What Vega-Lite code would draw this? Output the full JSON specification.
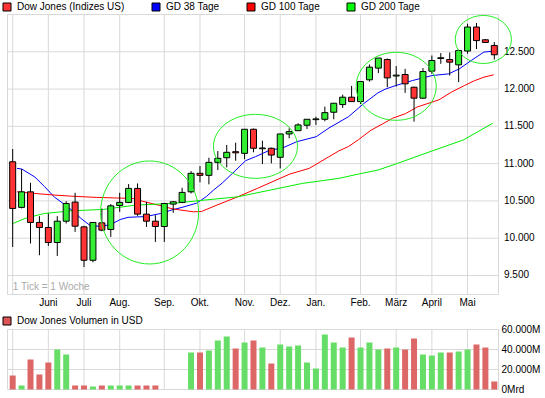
{
  "$schema": "https://vega.github.io/schema/vega-lite/v6.json",
  "width": 545,
  "height": 398,
  "autosize": "none",
  "padding": 0,
  "background": "white",
  "config": {
    "view": {"stroke": null},
    "font": "Liberation Sans",
    "legend": {"labelFont": "Liberation Sans", "labelFontSize": 10, "labelColor": "#000000"}
  },
  "datasets": {
    "weeks": [
      {"i":1,"o":11025,"h":11196,"l":9883,"c":10399,"v":14000},
      {"i":2,"o":10413,"h":10927,"l":10400,"c":10622,"v":4000},
      {"i":3,"o":10622,"h":10743,"l":9929,"c":10211,"v":30000},
      {"i":4,"o":10211,"h":10296,"l":9772,"c":10144,"v":15000},
      {"i":5,"o":10144,"h":10332,"l":9896,"c":9942,"v":27000},
      {"i":6,"o":9942,"h":10296,"l":9762,"c":10228,"v":40000},
      {"i":7,"o":10228,"h":10497,"l":10197,"c":10466,"v":35000},
      {"i":8,"o":10484,"h":10609,"l":10085,"c":10161,"v":4000},
      {"i":9,"o":10152,"h":10165,"l":9614,"c":9704,"v":4000},
      {"i":10,"o":9704,"h":10211,"l":9677,"c":10211,"v":3000},
      {"i":11,"o":10206,"h":10399,"l":10094,"c":10108,"v":4000},
      {"i":12,"o":10117,"h":10457,"l":10017,"c":10434,"v":4000},
      {"i":13,"o":10439,"h":10609,"l":10353,"c":10480,"v":4000},
      {"i":14,"o":10480,"h":10726,"l":10470,"c":10668,"v":4000},
      {"i":15,"o":10668,"h":10735,"l":10300,"c":10323,"v":4000},
      {"i":16,"o":10323,"h":10488,"l":10151,"c":10228,"v":4000},
      {"i":17,"o":10228,"h":10309,"l":9950,"c":10157,"v":4000},
      {"i":18,"o":10157,"h":10466,"l":9950,"c":10466},
      {"i":19,"o":10457,"h":10497,"l":10340,"c":10488},
      {"i":20,"o":10480,"h":10676,"l":10470,"c":10614},
      {"i":21,"o":10622,"h":10900,"l":10600,"c":10870,"v":37000},
      {"i":22,"o":10870,"h":10968,"l":10749,"c":10843,"v":37000},
      {"i":23,"o":10843,"h":11079,"l":10722,"c":11017,"v":39000},
      {"i":24,"o":11017,"h":11169,"l":10914,"c":11071,"v":49000},
      {"i":25,"o":11079,"h":11250,"l":10950,"c":11152,"v":53000},
      {"i":26,"o":11160,"h":11281,"l":11039,"c":11145,"v":41000},
      {"i":27,"o":11138,"h":11461,"l":11060,"c":11461,"v":47000},
      {"i":28,"o":11461,"h":11470,"l":11152,"c":11206,"v":49000},
      {"i":29,"o":11200,"h":11308,"l":10995,"c":11210,"v":42000},
      {"i":30,"o":11206,"h":11215,"l":11004,"c":11115,"v":26000},
      {"i":31,"o":11085,"h":11398,"l":10937,"c":11398,"v":45000},
      {"i":32,"o":11398,"h":11474,"l":11340,"c":11429,"v":43000},
      {"i":33,"o":11442,"h":11541,"l":11442,"c":11519,"v":44000},
      {"i":34,"o":11515,"h":11595,"l":11465,"c":11595,"v":27000},
      {"i":35,"o":11590,"h":11630,"l":11519,"c":11600,"v":21000},
      {"i":36,"o":11595,"h":11765,"l":11568,"c":11684,"v":55000},
      {"i":37,"o":11689,"h":11810,"l":11595,"c":11810,"v":47000},
      {"i":38,"o":11792,"h":11925,"l":11747,"c":11891,"v":42000},
      {"i":39,"o":11891,"h":12043,"l":11832,"c":11832,"v":52000},
      {"i":40,"o":11832,"h":12101,"l":11800,"c":12101,"v":42000},
      {"i":41,"o":12124,"h":12330,"l":12100,"c":12294,"v":47000},
      {"i":42,"o":12281,"h":12416,"l":12214,"c":12416,"v":40000},
      {"i":43,"o":12396,"h":12410,"l":12025,"c":12150,"v":41000},
      {"i":44,"o":12175,"h":12308,"l":12033,"c":12187,"v":42000},
      {"i":45,"o":12195,"h":12271,"l":11949,"c":12070,"v":40000},
      {"i":46,"o":12025,"h":12030,"l":11563,"c":11878,"v":51000},
      {"i":47,"o":11878,"h":12281,"l":11870,"c":12235,"v":35000},
      {"i":48,"o":12240,"h":12450,"l":12204,"c":12383,"v":34000},
      {"i":49,"o":12410,"h":12482,"l":12339,"c":12420,"v":37000},
      {"i":50,"o":12396,"h":12490,"l":12181,"c":12361,"v":37000},
      {"i":51,"o":12325,"h":12530,"l":12093,"c":12517,"v":38000},
      {"i":52,"o":12510,"h":12876,"l":12473,"c":12832,"v":40000},
      {"i":53,"o":12832,"h":12886,"l":12536,"c":12650,"v":45000},
      {"i":54,"o":12661,"h":12670,"l":12620,"c":12625,"v":42000},
      {"i":55,"o":12585,"h":12630,"l":12396,"c":12460,"v":8000}
    ],
    "ma": [
      {"series":"GD 38 Tage","i":1.48,"v":10937},{"series":"GD 38 Tage","i":2.03,"v":10927},{"series":"GD 38 Tage","i":3.49,"v":10820},{"series":"GD 38 Tage","i":4.59,"v":10690},{"series":"GD 38 Tage","i":5.69,"v":10550},{"series":"GD 38 Tage","i":6.79,"v":10455},{"series":"GD 38 Tage","i":7.89,"v":10350},{"series":"GD 38 Tage","i":8.66,"v":10265},{"series":"GD 38 Tage","i":9.76,"v":10163},{"series":"GD 38 Tage","i":10.86,"v":10161},{"series":"GD 38 Tage","i":11.96,"v":10180},{"series":"GD 38 Tage","i":13.05,"v":10250},{"series":"GD 38 Tage","i":13.93,"v":10280},{"series":"GD 38 Tage","i":15.91,"v":10290},{"series":"GD 38 Tage","i":17.56,"v":10330},{"series":"GD 38 Tage","i":18.88,"v":10380},{"series":"GD 38 Tage","i":19.98,"v":10413},{"series":"GD 38 Tage","i":21.63,"v":10470},{"series":"GD 38 Tage","i":22.73,"v":10560},{"series":"GD 38 Tage","i":23.52,"v":10645},{"series":"GD 38 Tage","i":24.5,"v":10740},{"series":"GD 38 Tage","i":26.03,"v":10914},{"series":"GD 38 Tage","i":27.12,"v":11040},{"series":"GD 38 Tage","i":28.22,"v":11093},{"series":"GD 38 Tage","i":29.87,"v":11183},{"series":"GD 38 Tage","i":31.19,"v":11206},{"series":"GD 38 Tage","i":32.84,"v":11294},{"series":"GD 38 Tage","i":35.03,"v":11361},{"series":"GD 38 Tage","i":36.46,"v":11478},{"series":"GD 38 Tage","i":38.66,"v":11630},{"series":"GD 38 Tage","i":40.31,"v":11800},{"series":"GD 38 Tage","i":41.96,"v":11950},{"series":"GD 38 Tage","i":42.84,"v":12002},{"series":"GD 38 Tage","i":43.94,"v":12047},{"series":"GD 38 Tage","i":45.81,"v":12114},{"series":"GD 38 Tage","i":48.01,"v":12181},{"series":"GD 38 Tage","i":49.87,"v":12204},{"series":"GD 38 Tage","i":51.08,"v":12271},{"series":"GD 38 Tage","i":52.41,"v":12383},{"series":"GD 38 Tage","i":53.83,"v":12496},{"series":"GD 38 Tage","i":54.92,"v":12509},
      {"series":"GD 100 Tage","i":1.48,"v":10622},{"series":"GD 100 Tage","i":3.49,"v":10600},{"series":"GD 100 Tage","i":5.69,"v":10578},{"series":"GD 100 Tage","i":7.56,"v":10564},{"series":"GD 100 Tage","i":10.42,"v":10547},{"series":"GD 100 Tage","i":14.48,"v":10533},{"series":"GD 100 Tage","i":15.58,"v":10495},{"series":"GD 100 Tage","i":17.45,"v":10440},{"series":"GD 100 Tage","i":18.88,"v":10395},{"series":"GD 100 Tage","i":19.98,"v":10375},{"series":"GD 100 Tage","i":21.29,"v":10354},{"series":"GD 100 Tage","i":22.16,"v":10358},{"series":"GD 100 Tage","i":23.81,"v":10440},{"series":"GD 100 Tage","i":26.23,"v":10555},{"series":"GD 100 Tage","i":28.43,"v":10668},{"series":"GD 100 Tage","i":32.07,"v":10860},{"series":"GD 100 Tage","i":34.26,"v":10937},{"series":"GD 100 Tage","i":36.46,"v":11093},{"series":"GD 100 Tage","i":37.56,"v":11170},{"series":"GD 100 Tage","i":38.66,"v":11230},{"series":"GD 100 Tage","i":39.76,"v":11320},{"series":"GD 100 Tage","i":41.19,"v":11450},{"series":"GD 100 Tage","i":42.51,"v":11535},{"series":"GD 100 Tage","i":43.61,"v":11610},{"series":"GD 100 Tage","i":45.04,"v":11670},{"series":"GD 100 Tage","i":46.36,"v":11760},{"series":"GD 100 Tage","i":48.78,"v":11855},{"series":"GD 100 Tage","i":50.21,"v":11960},{"series":"GD 100 Tage","i":51.64,"v":12047},{"series":"GD 100 Tage","i":52.74,"v":12110},{"series":"GD 100 Tage","i":53.84,"v":12160},{"series":"GD 100 Tage","i":54.92,"v":12191},
      {"series":"GD 200 Tage","i":1,"v":10197},{"series":"GD 200 Tage","i":2.4,"v":10265},{"series":"GD 200 Tage","i":3.82,"v":10310},{"series":"GD 200 Tage","i":4.59,"v":10332},{"series":"GD 200 Tage","i":7.56,"v":10367},{"series":"GD 200 Tage","i":11.19,"v":10386},{"series":"GD 200 Tage","i":14.82,"v":10444},{"series":"GD 200 Tage","i":18.88,"v":10466},{"series":"GD 200 Tage","i":22.51,"v":10511},{"series":"GD 200 Tage","i":26.23,"v":10555},{"series":"GD 200 Tage","i":29.87,"v":10645},{"series":"GD 200 Tage","i":33.49,"v":10735},{"series":"GD 200 Tage","i":37.56,"v":10802},{"series":"GD 200 Tage","i":39.76,"v":10860},{"series":"GD 200 Tage","i":41.96,"v":10914},{"series":"GD 200 Tage","i":44.16,"v":11004},{"series":"GD 200 Tage","i":47.78,"v":11160},{"series":"GD 200 Tage","i":51.52,"v":11317},{"series":"GD 200 Tage","i":54.82,"v":11541}
    ],
    "months": [{"i":1,"label":""},{"i":5,"label":"Juni"},{"i":9,"label":"Juli"},{"i":13,"label":"Aug."},{"i":18,"label":"Sep."},{"i":22,"label":"Okt."},{"i":27,"label":"Nov."},{"i":31,"label":"Dez."},{"i":35,"label":"Jan."},{"i":40,"label":"Feb."},{"i":44,"label":"März"},{"i":48,"label":"April"},{"i":52,"label":"Mai"}],
    "pgrid": [{"p":9500,"label":"9.500"},{"p":10000,"label":"10.000"},{"p":10500,"label":"10.500"},{"p":11000,"label":"11.000"},{"p":11500,"label":"11.500"},{"p":12000,"label":"12.000"},{"p":12500,"label":"12.500"}],
    "vgrid": [{"v":20000},{"v":40000}],
    "vlabels": [{"v":0,"label":"0Mrd"},{"v":20000,"label":"20.000M"},{"v":40000,"label":"40.000M"},{"v":60000,"label":"60.000M"}],
    "circles": [{"id":"a","i":16.35,"p":10345},{"id":"b","i":28.22,"p":11232},{"id":"c","i":44.0,"p":12037},{"id":"d","i":53.77,"p":12665}],
    "legendTop": [{"name":"Dow Jones (Indizes US)"},{"name":"GD 38 Tage"},{"name":"GD 100 Tage"},{"name":"GD 200 Tage"}],
    "legendVol": [{"name":"Dow Jones Volumen in USD"}],
    "one": [{}]
  },
  "layer": [
    {
      "layer": [
        {
          "data": {"name": "one"},
          "mark": {"type": "rect", "fillOpacity": 0, "stroke": "#d9d9d9", "strokeWidth": 1},
          "encoding": {
            "x": {"datum": 0.42, "type": "quantitative", "scale": {"domain": [0.42, 55.47], "range": [2.5, 503.5], "nice": false, "zero": false}, "axis": null},
            "x2": {"datum": 55.47},
            "y": {"datum": 9245, "type": "quantitative", "scale": {"domain": [9245, 13000], "range": [294.5, 14.5], "nice": false, "zero": false}, "axis": null},
            "y2": {"datum": 13000}
          }
        },
        {
          "data": {"name": "pgrid"},
          "mark": {"type": "rule", "color": "#d9d9d9", "strokeWidth": 1},
          "encoding": {
            "y": {"field": "p", "type": "quantitative", "scale": {"domain": [9245, 13000], "range": [294.5, 14.5], "nice": false, "zero": false}, "axis": null},
            "x": {"datum": 0.42, "type": "quantitative", "scale": {"domain": [0.42, 55.47], "range": [2.5, 503.5], "nice": false, "zero": false}, "axis": null},
            "x2": {"datum": 55.47}
          }
        },
        {
          "data": {"name": "pgrid"},
          "mark": {"type": "text", "align": "left", "baseline": "middle", "dx": 5.5, "fontSize": 10, "font": "Liberation Sans", "color": "#000000"},
          "encoding": {
            "y": {"field": "p", "type": "quantitative", "scale": {"domain": [9245, 13000], "range": [294.5, 14.5], "nice": false, "zero": false}, "axis": null},
            "x": {"datum": 55.47, "type": "quantitative", "scale": {"domain": [0.42, 55.47], "range": [2.5, 503.5], "nice": false, "zero": false}, "axis": null},
            "text": {"field": "label", "type": "nominal"}
          }
        },
        {
          "data": {"name": "months"},
          "mark": {"type": "rule", "color": "#d9d9d9", "strokeWidth": 1},
          "encoding": {
            "x": {"field": "i", "type": "quantitative", "scale": {"domain": [0.42, 55.47], "range": [2.5, 503.5], "nice": false, "zero": false}, "axis": null},
            "y": {"datum": 9245, "type": "quantitative", "scale": {"domain": [9245, 13000], "range": [294.5, 14.5], "nice": false, "zero": false}, "axis": null},
            "y2": {"datum": 13000}
          }
        },
        {
          "data": {"name": "months"},
          "mark": {"type": "text", "align": "center", "baseline": "top", "dy": 3, "fontSize": 10, "font": "Liberation Sans", "color": "#000000"},
          "encoding": {
            "x": {"field": "i", "type": "quantitative", "scale": {"domain": [0.42, 55.47], "range": [2.5, 503.5], "nice": false, "zero": false}, "axis": null},
            "y": {"datum": 9245, "type": "quantitative", "scale": {"domain": [9245, 13000], "range": [294.5, 14.5], "nice": false, "zero": false}, "axis": null},
            "text": {"field": "label", "type": "nominal"}
          }
        },
        {
          "data": {"name": "one"},
          "mark": {"type": "text", "text": "1 Tick = 1 Woche", "align": "left", "baseline": "middle", "color": "#aaaaaa", "fontSize": 10, "font": "Liberation Sans"},
          "encoding": {
            "x": {"datum": 1.02, "type": "quantitative", "scale": {"domain": [0.42, 55.47], "range": [2.5, 503.5], "nice": false, "zero": false}, "axis": null},
            "y": {"datum": 9346, "type": "quantitative", "scale": {"domain": [9245, 13000], "range": [294.5, 14.5], "nice": false, "zero": false}, "axis": null}
          }
        },
        {
          "data": {"name": "ma"},
          "mark": {"type": "line", "strokeWidth": 1, "interpolate": "linear"},
          "encoding": {
            "x": {"field": "i", "type": "quantitative", "scale": {"domain": [0.42, 55.47], "range": [2.5, 503.5], "nice": false, "zero": false}, "axis": null},
            "y": {"field": "v", "type": "quantitative", "scale": {"domain": [9245, 13000], "range": [294.5, 14.5], "nice": false, "zero": false}, "axis": null},
            "stroke": {"field": "series", "type": "nominal", "scale": {"domain": ["GD 38 Tage", "GD 100 Tage", "GD 200 Tage"], "range": ["#0000ff", "#ff0000", "#00ee00"]}, "legend": null}
          }
        },
        {
          "data": {"name": "weeks"},
          "mark": {"type": "rule", "color": "#000000", "strokeWidth": 1},
          "encoding": {
            "x": {"field": "i", "type": "quantitative", "scale": {"domain": [0.42, 55.47], "range": [2.5, 503.5], "nice": false, "zero": false}, "axis": null},
            "y": {"field": "l", "type": "quantitative", "scale": {"domain": [9245, 13000], "range": [294.5, 14.5], "nice": false, "zero": false}, "axis": null},
            "y2": {"field": "h"}
          }
        },
        {
          "data": {"name": "weeks"},
          "mark": {"type": "bar", "size": 6, "stroke": "#000000", "strokeWidth": 1},
          "encoding": {
            "x": {"field": "i", "type": "quantitative", "scale": {"domain": [0.42, 55.47], "range": [2.5, 503.5], "nice": false, "zero": false}, "axis": null},
            "y": {"field": "o", "type": "quantitative", "scale": {"domain": [9245, 13000], "range": [294.5, 14.5], "nice": false, "zero": false}, "axis": null},
            "y2": {"field": "c"},
            "color": {"condition": {"test": "datum.c < datum.o", "value": "#ff3333"}, "value": "#33ee33"}
          }
        },
        {
          "data": {"name": "circles"},
          "mark": {"type": "point", "filled": false, "size": 4, "stroke": "#22ee22", "strokeWidth": 1, "opacity": 1},
          "encoding": {
            "x": {"field": "i", "type": "quantitative", "scale": {"domain": [0.42, 55.47], "range": [2.5, 503.5], "nice": false, "zero": false}, "axis": null},
            "y": {"field": "p", "type": "quantitative", "scale": {"domain": [9245, 13000], "range": [294.5, 14.5], "nice": false, "zero": false}, "axis": null},
            "shape": {"field": "id", "type": "nominal", "legend": null,
                      "scale": {"domain": ["a", "b", "c", "d"],
                                "range": ["M -49 0 A 49 51.5 0 1 1 49 0 A 49 51.5 0 1 1 -49 0 Z",
                                          "M -42 0 A 42 32 0 1 1 42 0 A 42 32 0 1 1 -42 0 Z",
                                          "M -40 0 A 40 34 0 1 1 40 0 A 40 34 0 1 1 -40 0 Z",
                                          "M -28 0 A 28 24 0 1 1 28 0 A 28 24 0 1 1 -28 0 Z"]}}
          }
        },
        {
          "data": {"name": "legendTop"},
          "mark": {"type": "point", "filled": true, "size": 0, "shape": "square", "opacity": 1},
          "encoding": {
            "fill": {"field": "name", "type": "nominal",
                     "scale": {"domain": ["Dow Jones (Indizes US)", "GD 38 Tage", "GD 100 Tage", "GD 200 Tage"], "range": ["#ff3333", "#0000ff", "#ff0000", "#00ff00"]},
                     "legend": {"orient": "none", "legendX": 2, "legendY": 2, "direction": "horizontal", "title": null,
                                "symbolType": "square", "symbolSize": 64, "symbolStrokeColor": "#000000", "symbolStrokeWidth": 1, "symbolOpacity": 1,
                                "labelFontSize": 10, "labelOffset": 5, "columnPadding": 25, "padding": 0, "symbolOffset": 0, "labelLimit": 300}}
          }
        }
      ]
    },
    {
      "layer": [
        {
          "data": {"name": "one"},
          "mark": {"type": "rect", "fillOpacity": 0, "stroke": "#d9d9d9", "strokeWidth": 1},
          "encoding": {
            "x": {"datum": 0.42, "type": "quantitative", "scale": {"domain": [0.42, 55.47], "range": [2.5, 503.5], "nice": false, "zero": false}, "axis": null},
            "x2": {"datum": 55.47},
            "y": {"datum": 0, "type": "quantitative", "scale": {"domain": [0, 60000], "range": [389.5, 329.5], "nice": false, "zero": false}, "axis": null},
            "y2": {"datum": 60000}
          }
        },
        {
          "data": {"name": "vgrid"},
          "mark": {"type": "rule", "color": "#d9d9d9", "strokeWidth": 1},
          "encoding": {
            "y": {"field": "v", "type": "quantitative", "scale": {"domain": [0, 60000], "range": [389.5, 329.5], "nice": false, "zero": false}, "axis": null},
            "x": {"datum": 0.42, "type": "quantitative", "scale": {"domain": [0.42, 55.47], "range": [2.5, 503.5], "nice": false, "zero": false}, "axis": null},
            "x2": {"datum": 55.47}
          }
        },
        {
          "data": {"name": "vlabels"},
          "mark": {"type": "text", "align": "left", "baseline": "middle", "dx": 3, "fontSize": 10, "font": "Liberation Sans", "color": "#000000"},
          "encoding": {
            "y": {"field": "v", "type": "quantitative", "scale": {"domain": [0, 60000], "range": [389.5, 329.5], "nice": false, "zero": false}, "axis": null},
            "x": {"datum": 55.47, "type": "quantitative", "scale": {"domain": [0.42, 55.47], "range": [2.5, 503.5], "nice": false, "zero": false}, "axis": null},
            "text": {"field": "label", "type": "nominal"}
          }
        },
        {
          "data": {"name": "months"},
          "mark": {"type": "rule", "color": "#d9d9d9", "strokeWidth": 1},
          "encoding": {
            "x": {"field": "i", "type": "quantitative", "scale": {"domain": [0.42, 55.47], "range": [2.5, 503.5], "nice": false, "zero": false}, "axis": null},
            "y": {"datum": 0, "type": "quantitative", "scale": {"domain": [0, 60000], "range": [389.5, 329.5], "nice": false, "zero": false}, "axis": null},
            "y2": {"datum": 60000}
          }
        },
        {
          "data": {"name": "weeks"},
          "transform": [{"filter": "isValid(datum.v)"}],
          "mark": {"type": "bar", "size": 6},
          "encoding": {
            "x": {"field": "i", "type": "quantitative", "scale": {"domain": [0.42, 55.47], "range": [2.5, 503.5], "nice": false, "zero": false}, "axis": null},
            "y": {"field": "v", "type": "quantitative", "scale": {"domain": [0, 60000], "range": [389.5, 329.5], "nice": false, "zero": false}, "axis": null},
            "color": {"condition": {"test": "datum.c < datum.o", "value": "#dd6666"}, "value": "#66dd66"}
          }
        },
        {
          "data": {"name": "legendVol"},
          "mark": {"type": "point", "filled": true, "size": 0, "shape": "square", "opacity": 1},
          "encoding": {
            "fill": {"field": "name", "type": "nominal",
                     "scale": {"domain": ["Dow Jones Volumen in USD"], "range": ["#dd5555"]},
                     "legend": {"orient": "none", "legendX": 2, "legendY": 316, "direction": "horizontal", "title": null,
                                "symbolType": "square", "symbolSize": 64, "symbolStrokeColor": "#000000", "symbolStrokeWidth": 1, "symbolOpacity": 1,
                                "labelFontSize": 10, "labelOffset": 5, "padding": 0, "symbolOffset": 0, "labelLimit": 300}}
          }
        }
      ]
    }
  ],
  "resolve": {"scale": {"y": "independent", "fill": "independent"}}
}
